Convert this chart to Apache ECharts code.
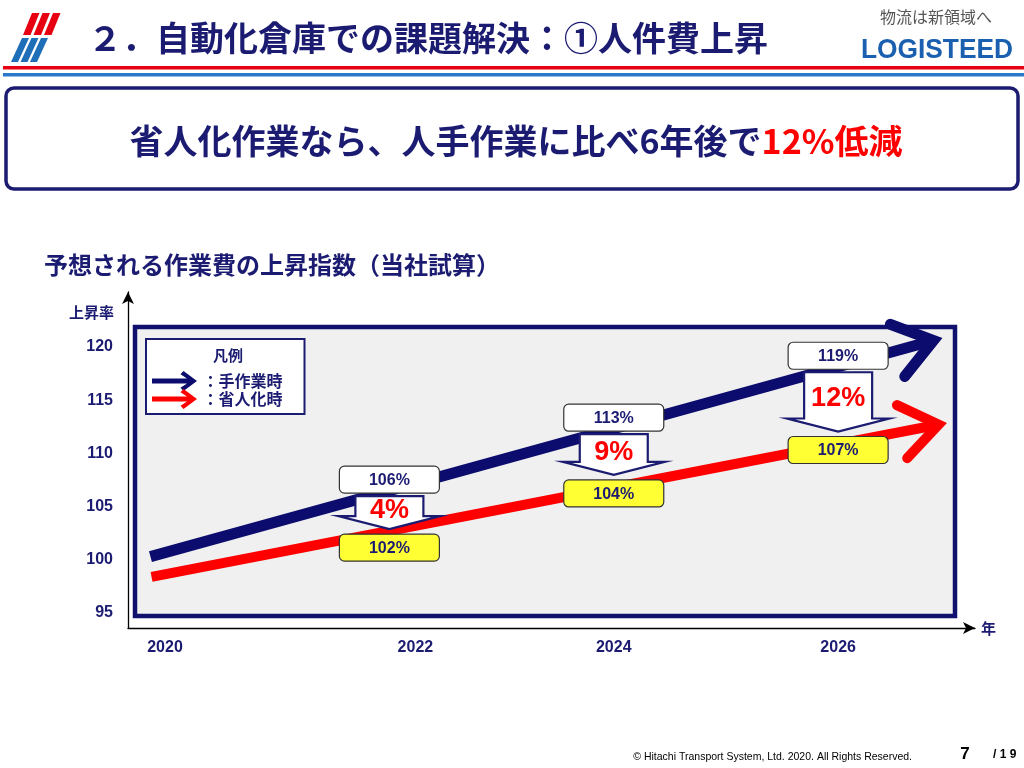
<!DOCTYPE html>
<html><head><meta charset="utf-8">
<script src="https://cdn.jsdelivr.net/npm/echarts@6/dist/echarts.min.js"></script>
<style>html,body{margin:0;padding:0;background:#fff}#c{width:1024px;height:768px}</style>
</head><body><div id="c"></div>
<script>
// ---- data ----
const years = [2022, 2024, 2026];
const manualIndex = [106, 113, 119];     // 手作業時
const savingIndex = [102, 104, 107];     // 省人化時
const reduction = [4, 9, 12];            // 低減 (%)
const xTicks = [2020, 2022, 2024, 2026];
const yTicks = [95, 100, 105, 110, 115, 120];
const manualArrow = [2019.87, 100.3, 2026.93, 120.85];  // start year, start idx, end year, end idx
const savingArrow = [2019.88, 98.4, 2026.97, 112.86];
const seriesNames = ['：手作業時', '：省人化時'];

// ---- styles ----
const navy = '#1b1b72';
const jp = '"Noto Sans CJK JP", sans-serif';
const lat = '"Liberation Sans", Arial, sans-serif';

function arrowItem(params, api) {
  const p0 = api.coord([api.value(0), api.value(1)]);
  const p1 = api.coord([api.value(2), api.value(3)]);
  const dx = p1[0] - p0[0], dy = p1[1] - p0[1];
  const L = Math.hypot(dx, dy), ux = dx / L, uy = dy / L;
  const color = api.visual('color');
  const w = params.seriesIndex === 0 ? 11 : 10;
  const arm = 46, ang = 36 * Math.PI / 180;
  const back = (w / 2) / Math.sin(ang);
  const t = [p1[0] - ux * back, p1[1] - uy * back];
  const bx = -ux, by = -uy;
  const rot = a => [bx * Math.cos(a) - by * Math.sin(a), bx * Math.sin(a) + by * Math.cos(a)];
  const r1 = rot(ang), r2 = rot(-ang);
  return {
    type: 'group',
    children: [
      { type: 'line', shape: { x1: p0[0], y1: p0[1], x2: t[0] - ux * 2, y2: t[1] - uy * 2 },
        style: { stroke: color, lineWidth: w, lineCap: 'butt' } },
      { type: 'polyline',
        shape: { points: [[t[0] + r1[0] * arm, t[1] + r1[1] * arm], t, [t[0] + r2[0] * arm, t[1] + r2[1] * arm]] },
        style: { stroke: color, fill: null, lineWidth: w, lineJoin: 'miter', miterLimit: 10, lineCap: 'round' } }
    ]
  };
}

function lineYAt(arr, px, api) {
  const a = api.coord([arr[0], arr[1]]), b = api.coord([arr[2], arr[3]]);
  return a[1] + (b[1] - a[1]) * (px - a[0]) / (b[0] - a[0]);
}

function calloutItem(params, api) {
  const px = api.coord([api.value(0), 100])[0];
  const bw = 100, bh = 27;
  const topC = lineYAt(manualArrow, px, api) - 11;
  const botC = Math.max(lineYAt(savingArrow, px, api) + 6, topC + 68);
  const aTop = topC + bh / 2 + 3, aTip = botC - bh / 2 - 5;
  const head = 13, hb = 34, hh = 51;
  const pts = [[px - hb, aTop], [px + hb, aTop], [px + hb, aTip - head], [px + hh, aTip - head],
               [px, aTip], [px - hh, aTip - head], [px - hb, aTip - head]];
  const boxFont = 'bold 16px ' + lat;
  return {
    type: 'group',
    children: [
      { type: 'polygon', shape: { points: pts }, style: { fill: '#fff', stroke: navy, lineWidth: 2.2 } },
      { type: 'rect', shape: { x: px - bw / 2, y: topC - bh / 2, width: bw, height: bh, r: 5 },
        style: { fill: '#fff', stroke: '#333', lineWidth: 1.2 } },
      { type: 'text', x: px, y: topC + 1, style: { text: api.value(1) + '%', font: boxFont, fill: navy, align: 'center', verticalAlign: 'middle' } },
      { type: 'rect', shape: { x: px - bw / 2, y: botC - bh / 2, width: bw, height: bh, r: 5 },
        style: { fill: '#ffff33', stroke: '#333', lineWidth: 1.2 } },
      { type: 'text', x: px, y: botC + 1, style: { text: api.value(2) + '%', font: boxFont, fill: navy, align: 'center', verticalAlign: 'middle' } },
      { type: 'text', x: px, y: aTop + (aTip - aTop) * 0.45, style: { text: api.value(3) + '%', font: 'bold 27px ' + lat, fill: '#ff0000', align: 'center', verticalAlign: 'middle' } }
    ]
  };
}

const arrowIcon = 'path://M0,6.5 L35,6.5 L28.5,2.2 L31.5,-1 L45,9 L31.5,19 L28.5,15.8 L35,11.5 L0,11.5 Z';

const chart = echarts.init(document.getElementById('c'), null, { renderer: 'canvas' });
chart.setOption({
  backgroundColor: '#fff',
  animation: false,
  grid: { left: 128, right: 49, top: 292, bottom: 140, containLabel: false, outerBoundsMode: 'none' },
  xAxis: {
    type: 'value', min: 2019.67, max: 2027.22,
    axisLine: { show: true, lineStyle: { color: '#000', width: 1.3 }, symbol: ['none', 'arrow'], symbolSize: [9, 12] },
    axisTick: { show: false }, splitLine: { show: false },
    axisLabel: {
      customValues: xTicks, margin: 12, color: navy, fontWeight: 'bold', fontSize: 16, fontFamily: lat,
      formatter: v => v === 2022 ? '{s|' + v + '}' : '{n|' + v + '}',
      rich: {
        n: { color: navy, fontWeight: 'bold', fontSize: 16, fontFamily: lat },
        s: { color: navy, fontWeight: 'bold', fontSize: 16, fontFamily: lat, padding: [0, 0, 0, 52] }
      }
    },
    name: '年', nameGap: 6,
    nameTextStyle: { color: navy, fontWeight: 'bold', fontSize: 15, fontFamily: jp }
  },
  yAxis: {
    type: 'value', min: 93.59, max: 125.17,
    axisLine: { show: true, lineStyle: { color: '#000', width: 1.3 }, symbol: ['none', 'arrow'], symbolSize: [9, 12] },
    axisTick: { show: false }, splitLine: { show: false },
    axisLabel: { customValues: yTicks, margin: 15, color: navy, fontWeight: 'bold', fontSize: 16, fontFamily: lat },
    name: '上昇率', nameLocation: 'end', nameGap: -28,
    nameTextStyle: { color: navy, fontWeight: 'bold', fontSize: 15, fontFamily: jp, align: 'right', padding: [0, 14, 0, 0] }
  },
  legend: {
    left: 146, top: 339, orient: 'vertical', data: seriesNames, icon: arrowIcon,
    itemWidth: 46, itemHeight: 20, itemGap: -2, padding: [32, 22, 5, 6],
    backgroundColor: '#fff', borderColor: navy, borderWidth: 2, selectedMode: false,
    textStyle: { color: navy, fontWeight: 'bold', fontSize: 16, fontFamily: jp }
  },
  series: [
    { name: seriesNames[0], type: 'custom', renderItem: arrowItem, itemStyle: { color: '#0c0c6e' },
      encode: { x: [0, 2], y: [1, 3] }, data: [manualArrow], clip: false, z: 3 },
    { name: seriesNames[1], type: 'custom', renderItem: arrowItem, itemStyle: { color: '#ff0000' },
      encode: { x: [0, 2], y: [1, 3] }, data: [savingArrow], clip: false, z: 3 },
    { name: 'callout', type: 'custom', renderItem: calloutItem,
      encode: { x: 0, y: 1 }, clip: false, z: 5,
      data: years.map((y, i) => [y, manualIndex[i], savingIndex[i], reduction[i]]) }
  ],
  graphic: [
    ...[0, 1, 2].map(i => ({ type: 'polygon', shape: { points: [[32 + 10.5 * i, 13], [39.5 + 10.5 * i, 13], [30.5 + 10.5 * i, 35], [23 + 10.5 * i, 35]] }, style: { fill: '#e60012' } })),
    ...[0, 1, 2].map(i => ({ type: 'polygon', shape: { points: [[22 + 9.5 * i, 38], [29 + 9.5 * i, 38], [18 + 9.5 * i, 62], [11 + 9.5 * i, 62]] }, style: { fill: '#1e6eb8' } })),
    { type: 'text', x: 88, y: 38, style: { text: '２．自動化倉庫での課題解決：①人件費上昇', font: 'bold 34px ' + jp, fill: navy, verticalAlign: 'middle' } },
    { type: 'text', x: 936, y: 17, style: { text: '物流は新領域へ', font: '16px ' + jp, fill: '#555', align: 'center', verticalAlign: 'middle' } },
    { type: 'text', x: 937, y: 50, originX: 0, originY: 0, scaleX: 0.94, style: { text: 'LOGISTEED', font: 'bold 28px ' + lat, fill: '#1a5fb0', align: 'center', verticalAlign: 'middle' } },
    { type: 'rect', shape: { x: 3, y: 66, width: 1021, height: 3.5 }, style: { fill: '#e60012' } },
    { type: 'rect', shape: { x: 3, y: 73, width: 1021, height: 3.5 }, style: { fill: '#2a78c8' } },
    { type: 'rect', shape: { x: 6, y: 88, width: 1012, height: 101, r: 8 }, style: { fill: '#fff', stroke: navy, lineWidth: 3.5 } },
    { type: 'text', x: 516, y: 141, style: {
        text: '{a|省人化作業なら、人手作業に比べ6年後で}{b|12%低減}', align: 'center', verticalAlign: 'middle',
        rich: { a: { font: 'bold 34px ' + jp, fill: navy, color: navy }, b: { font: 'bold 34px ' + jp, fill: '#ff0000', color: '#ff0000' } } } },
    { type: 'text', x: 44, y: 265, style: { text: '予想される作業費の上昇指数（当社試算）', font: 'bold 24px ' + jp, fill: navy, verticalAlign: 'middle' } },
    { type: 'rect', z: -1, shape: { x: 135, y: 327, width: 820, height: 289 }, style: { fill: '#f0f0f0', stroke: '#10106e', lineWidth: 4.5 } },
    { type: 'text', z: 10, x: 228, y: 355, style: { text: '凡例', font: 'bold 15px ' + jp, fill: navy, align: 'center', verticalAlign: 'middle' } },
    { type: 'text', x: 912, y: 757, style: { text: '© Hitachi Transport System, Ltd. 2020. All Rights Reserved.', font: '10.5px ' + lat, fill: '#000', align: 'right', verticalAlign: 'middle' } },
    { type: 'text', x: 965, y: 754, style: { text: '7', font: 'bold 17px ' + lat, fill: '#000', align: 'center', verticalAlign: 'middle' } },
    { type: 'text', x: 993, y: 755, style: { text: '/ 1 9', font: 'bold 12px ' + lat, fill: '#000', verticalAlign: 'middle' } }
  ]
});
</script>
</body></html>
